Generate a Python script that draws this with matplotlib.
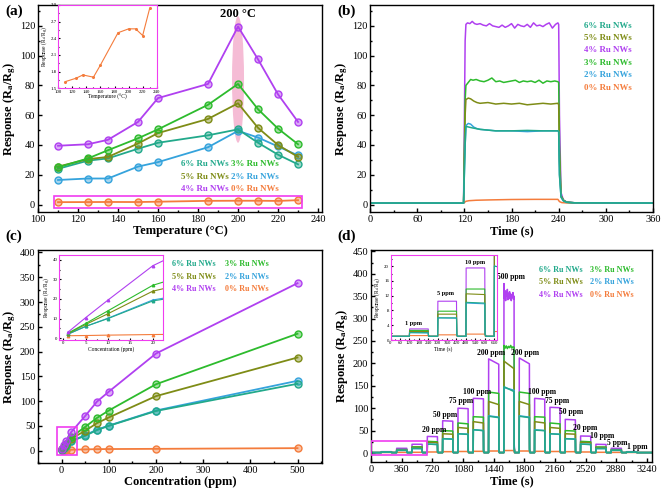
import numpy as np
import matplotlib
matplotlib.use('Agg')
import matplotlib.pyplot as plt
from matplotlib.colors import to_rgba
from matplotlib.patches import Ellipse, Rectangle
from matplotlib.ticker import MultipleLocator

plt.rcParams['font.family'] = 'Liberation Serif'
plt.rcParams['mathtext.fontset'] = 'custom'
plt.rcParams['mathtext.rm'] = 'Liberation Serif:bold'
plt.rcParams['mathtext.default'] = 'regular'

# ---- data ----
labels = ['6% Ru NWs', '5% Ru NWs', '4% Ru NWs', '3% Ru NWs', '2% Ru NWs', '0% Ru NWs']
colors = ['#22A98B', '#7E8C16', '#B040F0', '#2DBB2D', '#35A3DC', '#F47C3C']

# (a) response vs temperature
temp = [110, 125, 135, 150, 160, 185, 200, 210, 220, 230]
a_6 = [24, 29.5, 31, 37.5, 41.5, 46.5, 50.5, 41.5, 33.5, 27]
a_5 = [25.5, 30.5, 32, 41, 48, 57.5, 68, 51.5, 40, 32]
a_4 = [39.5, 40.5, 43.5, 55.5, 71.5, 81, 119.5, 97.5, 74, 55.5]
a_3 = [25, 31, 36.5, 44.5, 50.5, 67, 81, 64, 51, 40.5]
a_2 = [16.5, 17.5, 17.5, 25.5, 28.5, 38.5, 49.5, 45, 39, 33]
a_0 = [1.62, 1.68, 1.74, 1.70, 1.92, 2.50, 2.57, 2.57, 2.45, 2.94]

# (b) single response/recovery cycle
b4_t = [0, 119, 121, 122, 124, 127, 130, 133, 136, 140, 144, 148, 152, 156, 160, 164, 168, 172,
        176, 180, 184, 188, 192, 196, 200, 204, 208, 212, 216, 220, 224, 228, 232, 236, 239,
        240, 241, 243, 246, 250, 260, 360]
b4_v = [1, 1, 110, 121, 122, 121.5, 123, 121.5, 121, 121.5, 120.5, 120, 121.5, 120, 119.5, 119,
        120.5, 119, 120, 121.5, 118.5, 121, 120, 119.5, 121, 119, 122, 120, 120.5, 119.5, 121,
        122, 118.5, 121, 122, 121, 60, 8, 3, 1.8, 1.2, 1.0]
b3_t = [0, 119, 121, 122, 125, 128, 131, 135, 140, 145, 150, 155, 160, 165, 170, 175, 180, 185,
        190, 195, 200, 205, 210, 215, 220, 225, 230, 235, 239, 240, 241, 243, 246, 250, 260, 360]
b3_v = [1, 1, 70, 80, 82, 84, 83.5, 84, 83, 82.5, 83.5, 85, 82.5, 83, 82, 82.5, 83, 83.5, 82, 83,
        82.5, 83, 82, 83.5, 81.5, 83, 82.5, 83, 82.5, 82, 40, 6, 3, 1.6, 1.2, 1]
b5_t = [0, 119, 121, 122, 125, 128, 132, 136, 140, 150, 160, 170, 180, 190, 200, 210, 220, 230,
        239, 240, 241, 243, 246, 250, 260, 360]
b5_v = [1, 1, 60, 70.5, 71.5, 71, 69.5, 68.5, 68, 68.5, 67.5, 68, 67.5, 68, 67, 67.5, 68, 67.5,
        68, 67, 30, 6, 3, 1.6, 1.2, 1]
b6_t = [0, 119, 121, 122, 126, 130, 135, 140, 150, 160, 180, 200, 220, 239, 240, 241, 243, 246,
        250, 260, 360]
b6_v = [1, 1, 40, 52.5, 52, 51.5, 51, 50.5, 50, 49.5, 49.5, 49.8, 49.5, 49.5, 49, 20, 5, 2.5,
        1.5, 1.2, 1]
b2_t = [0, 119, 121, 122, 125, 128, 132, 136, 140, 150, 160, 180, 200, 220, 239, 240, 241, 243,
        246, 250, 260, 360]
b2_v = [1, 1, 40, 53, 54.5, 54, 52, 51, 50.5, 50, 49.5, 49.5, 49, 49.5, 49.5, 49, 20, 5, 2.5,
        1.5, 1.2, 1]
b0_t = [0, 119, 122, 126, 135, 150, 180, 210, 239, 241, 244, 250, 360]
b0_v = [1, 1, 2.2, 2.6, 2.9, 3.1, 3.4, 3.5, 3.5, 2, 1.3, 1.1, 1]

# (c) response vs concentration
conc = [1, 5, 10, 20, 50, 75, 100, 200, 500]
c_6 = [2, 6, 10, 19, 30, 41.5, 50, 80, 135]
c_5 = [2.3, 7, 12.5, 24, 40, 55.5, 67, 110, 188]
c_4 = [3, 10.5, 19.5, 37, 70, 99, 119, 196, 338]
c_3 = [2.5, 7.5, 14, 27, 48, 66, 81, 134, 236]
c_2 = [2, 6, 10.2, 19.5, 31, 42.5, 50.5, 81, 141]
c_0 = [1.2, 1.3, 1.5, 1.8, 2.5, 3, 3.2, 3.6, 5]

# (d) dynamic response to stepped concentrations
d_conc = [1, 5, 10, 20, 50, 75, 100, 200, 500, 200, 100, 75, 50, 20, 10, 5, 1]
d_start = [120, 300, 480, 660, 840, 1020, 1200, 1380, 1560, 1740, 1920, 2100, 2280, 2460, 2640,
           2820, 3000]
d_end = [240, 420, 600, 780, 960, 1140, 1320, 1500, 1680, 1860, 2040, 2220, 2400, 2580, 2760,
         2940, 3120]
d4_h0 = [3, 10.5, 19.5, 37, 72, 100, 122, 210, 378, 212, 122, 102, 75, 38, 19.5, 10.5, 3]
d4_h1 = [3, 10.5, 19.5, 36.5, 71, 99, 121, 198, 350, 199, 120, 101, 74, 37.5, 19, 10.5, 3]
d3_h0 = [2.6, 7.8, 13.8, 26, 50, 67, 81, 136, 240, 136, 81, 67, 50, 26, 13.5, 7.5, 2.5]
d3_h1 = [2.6, 7.8, 13.8, 25, 49, 65, 80, 133, 236, 133, 80, 65, 49, 25, 13.5, 7.5, 2.5]
d5_h0 = [2.3, 7.0, 12.5, 24, 43, 57, 70, 115, 205, 115, 70, 57, 43, 24, 12.5, 7, 2.3]
d5_h1 = [2.3, 7.0, 12.3, 23, 42, 55, 67, 108, 188, 108, 67, 55, 42, 23, 12, 7, 2.3]
d6_h0 = [2.0, 6.0, 10.2, 20, 32, 43, 52, 82, 148, 82, 51, 43, 32, 20, 10, 6, 2]
d6_h1 = [2.0, 6.0, 10.0, 19, 31, 41.5, 50, 79, 137, 79, 50, 41.5, 31, 19, 10, 6, 2]
d2_h0 = [2.0, 6.0, 10.0, 20, 32, 43, 52, 83, 146, 83, 52, 43, 32, 20, 10, 6, 2]
d2_h1 = [1.9, 5.9, 9.8, 19, 31, 42, 50, 80, 140, 80, 50, 42, 31, 19, 10, 6, 2]
d0_h0 = [1.2, 1.4, 1.6, 2.3, 3, 3.4, 3.8, 4.5, 5.5, 4.5, 3.8, 3.4, 3, 2.3, 1.6, 1.4, 1.2]
d0_h1 = [1.2, 1.4, 1.6, 2.3, 3, 3.4, 3.8, 4.5, 5.5, 4.5, 3.8, 3.4, 3, 2.3, 1.6, 1.4, 1.2]
# noisy plateau at 500 ppm
d4_500 = [378, 345, 362, 340, 358, 350, 365, 342, 356, 348, 360, 344, 355, 340, 352, 347, 358,
          343, 350]
d3_500 = [240, 234, 239, 233, 238, 235, 240, 234, 237, 236]

d_label_pos = [(740, 51), (872, 85), (1058, 116), (1243, 137), (1413, 224), (1640, 392),
               (1811, 224), (2010, 137), (2186, 116), (2350, 92), (2520, 56), (2713, 38),
               (2897, 23), (3123, 14)]
d_label_txt = ['20 ppm', '50 ppm', '75 ppm', '100 ppm', '200 ppm', '500 ppm', '200 ppm',
               '100 ppm', '75 ppm', '50 ppm', '20 ppm', '10 ppm', '5 ppm', '1 ppm']


def pulse_trace(h0, h1, wiggle=None):
    t, v = [0], [1.0]
    for i, (s, e) in enumerate(zip(d_start, d_end)):
        if wiggle is not None and d_conc[i] == 500:
            tw = np.linspace(s + 1.5, e, len(wiggle))
            t += [s] + list(tw)
            v += [1.0] + list(wiggle)
        else:
            t += [s, s + 1.5, e]
            v += [1.0, h0[i], h1[i]]
        t += [e + 2, e + 8]
        v += [1.0 + 0.05 * (h1[i] - 1), 1.0]
    t.append(3300)
    v.append(1.0)
    return t, v


def style(ax, xmaj, xmin, ymaj, ymin, size=7.5, lw=1.0, length=3):
    ax.xaxis.set_major_locator(MultipleLocator(xmaj))
    ax.xaxis.set_minor_locator(MultipleLocator(xmin))
    ax.yaxis.set_major_locator(MultipleLocator(ymaj))
    ax.yaxis.set_minor_locator(MultipleLocator(ymin))
    ax.tick_params(which='both', direction='in', top=False, right=False, width=lw, pad=2,
                   labelsize=size)
    ax.tick_params(which='major', length=length)
    ax.tick_params(which='minor', length=length * 0.55)
    for sp in ax.spines.values():
        sp.set_linewidth(lw)


def legend_text(ax, cols_x, rows_y, order, fs=6.5):
    for (x, y), i in zip([(x, y) for y in rows_y for x in cols_x], order):
        ax.text(x, y, labels[i], color=colors[i], fontsize=fs, fontweight='bold',
                ha='left', va='center')


ylab = 'Response (R$_{a}$/R$_{g}$)'
lab_kw = dict(fontsize=9, fontweight='bold', labelpad=1)
pink = '#F03CF0'

fig = plt.figure(figsize=(6.61, 4.91), dpi=100)

# ---------- (a) ----------
ax = fig.add_axes([0.0575, 0.5682, 0.4297, 0.4216])
ax.add_patch(Ellipse((200, 84), 6, 85, color='#F2A0C4', alpha=0.7, lw=0, zorder=1))
for ys, c in zip([a_0, a_2, a_6, a_5, a_3, a_4], [5, 4, 0, 1, 3, 2]):
    ax.plot(temp, ys, '-o', color=colors[c], lw=1.3, ms=5, mew=1,
            mfc=to_rgba(colors[c], 0.45), mec=colors[c], zorder=3)
ax.add_patch(Rectangle((108, -2), 124, 8, fill=False, ec=pink, lw=1.2, zorder=4))
ax.text(200, 128, '200 °C', fontsize=9, fontweight='bold', ha='center', va='center')
ax.set_xlim(100, 242)
ax.set_ylim(-5, 134)
style(ax, 20, 10, 20, 10)
ax.set_xlabel('Temperature (°C)', **lab_kw)
ax.set_ylabel(ylab, **lab_kw)
legend_text(ax, [171.5, 196.3], [27.2, 18.7, 10.5], [0, 3, 1, 4, 2, 5], fs=6.4)

axi = fig.add_axes([0.0882, 0.8202, 0.1489, 0.1697])
axi.plot(temp, a_0, '-o', color=colors[5], lw=0.8, ms=1.2)
axi.set_xlim(100, 240)
axi.set_ylim(1.5, 3.0)
style(axi, 20, 10, 0.3, 0.15, size=3.5, lw=0.8, length=1.5)
axi.yaxis.set_major_formatter(matplotlib.ticker.FormatStrFormatter('%.1f'))
for sp in axi.spines.values():
    sp.set_color(pink)
axi.set_xlabel('Temperature (°C)', fontsize=4, labelpad=0.5)
axi.set_ylabel(ylab, fontsize=4, labelpad=0.5)
axi.tick_params(pad=1)

# ---------- (b) ----------
ax = fig.add_axes([0.5598, 0.5682, 0.4281, 0.4216])
for (t, v), c in zip([(b0_t, b0_v), (b4_t, b4_v), (b3_t, b3_v), (b5_t, b5_v), (b2_t, b2_v),
                      (b6_t, b6_v)], [5, 2, 3, 1, 4, 0]):
    ax.plot(t, v, color=colors[c], lw=1.1)
ax.set_xlim(0, 360)
ax.set_ylim(-5, 134)
style(ax, 60, 30, 20, 10)
ax.set_xlabel('Time (s)', **lab_kw)
ax.set_ylabel(ylab, **lab_kw)
legend_text(ax, [272], [119.8, 112, 103.5, 95.2, 87, 78.5], [0, 1, 2, 3, 4, 5], fs=6.4)

# ---------- (c) ----------
ax = fig.add_axes([0.0575, 0.0570, 0.4297, 0.4338])
for ys, c in zip([c_0, c_2, c_6, c_5, c_3, c_4], [5, 4, 0, 1, 3, 2]):
    ax.plot(conc, ys, '-o', color=colors[c], lw=1.3, ms=5, mew=1,
            mfc=to_rgba(colors[c], 0.45), mec=colors[c], zorder=3)
ax.add_patch(Rectangle((-10, -8), 42, 55, fill=False, ec=pink, lw=1.2, zorder=4))
ax.set_xlim(-50, 552)
ax.set_ylim(-25, 405)
style(ax, 100, 50, 50, 25)
ax.set_xlabel('Concentration (ppm)', **lab_kw)
ax.set_ylabel(ylab, **lab_kw)
legend_text(ax, [235, 345.7], [376.7, 351, 325.7], [0, 3, 1, 4, 2, 5], fs=5.9)

axi = fig.add_axes([0.0893, 0.3075, 0.1573, 0.1731])
for ys, c in zip([c_0, c_2, c_6, c_5, c_3, c_4], [5, 4, 0, 1, 3, 2]):
    axi.plot(conc, ys, '-^', color=colors[c], lw=0.8, ms=1.8)
axi.set_xlim(-1, 22.3)
axi.set_ylim(-1, 42.5)
style(axi, 5, 2.5, 10, 5, size=3.5, lw=0.8, length=1.5)
for sp in axi.spines.values():
    sp.set_color(pink)
axi.set_xlabel('Concentration (ppm)', fontsize=4, labelpad=0.5)
axi.set_ylabel(ylab, fontsize=4, labelpad=0.5)
axi.tick_params(pad=1)

# ---------- (d) ----------
traces = [(pulse_trace(d0_h0, d0_h1), 5), (pulse_trace(d4_h0, d4_h1, d4_500), 2),
          (pulse_trace(d3_h0, d3_h1, d3_500), 3), (pulse_trace(d5_h0, d5_h1), 1),
          (pulse_trace(d2_h0, d2_h1), 4), (pulse_trace(d6_h0, d6_h1), 0)]
ax = fig.add_axes([0.5613, 0.0591, 0.4251, 0.4318])
for (t, v), c in traces:
    ax.plot(t, v, color=colors[c], lw=1.1)
ax.add_patch(Rectangle((5, -5), 650, 31, fill=False, ec=pink, lw=1.2, zorder=4))
for (x, y), s in zip(d_label_pos, d_label_txt):
    ax.text(x, y, s, fontsize=5.5, fontweight='bold', ha='center', va='center')
ax.set_xlim(0, 3300)
ax.set_ylim(-20, 453)
style(ax, 360, 180, 50, 25)
ax.set_xlabel('Time (s)', **lab_kw)
ax.set_ylabel(ylab, **lab_kw)
legend_text(ax, [1967, 2574], [409, 381, 353], [0, 3, 1, 4, 2, 5], fs=5.9)

axi = fig.add_axes([0.5908, 0.3075, 0.1604, 0.1731])
for (t, v), c in traces:
    axi.plot(t, v, color=colors[c], lw=0.8)
axi.set_xlim(0, 675)
axi.set_ylim(0, 23)
style(axi, 60, 30, 4, 2, size=3.5, lw=0.8, length=1.5)
for sp in axi.spines.values():
    sp.set_color(pink)
for x, y, s in [(145, 4.6, '1 ppm'), (353, 12.5, '5 ppm'), (537, 21, '10 ppm')]:
    axi.text(x, y, s, fontsize=4.5, fontweight='bold', ha='center', va='center')
axi.set_xlabel('Time (s)', fontsize=4, labelpad=0.5)
axi.set_ylabel(ylab, fontsize=4, labelpad=0.5)
axi.tick_params(pad=1)

# panel letters
for x, y, s in [(5, 11, '(a)'), (337, 11, '(b)'), (5, 236, '(c)'), (337, 236, '(d)')]:
    fig.text(x / 661, 1 - y / 491, s, fontsize=11, fontweight='bold', ha='left', va='center')

fig.savefig('out.png', dpi=100)
